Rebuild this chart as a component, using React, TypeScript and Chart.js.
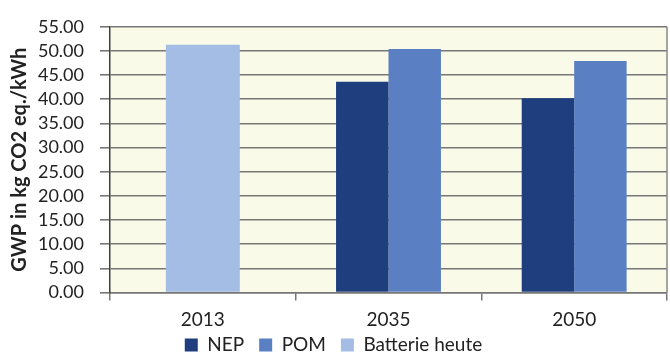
import React, { useEffect, useRef } from 'react';
import { Chart, registerables } from 'chart.js';

Chart.register(...registerables);

// Years on the category axis
const years = ['2013', '2035', '2050'];

// GWP in kg CO2 eq. per kWh
const nepValues = [null, 43.6, 40.2];
const pomValues = [null, 50.4, 47.9];
const batterieHeuteValues = [51.3, null, null];

// Value axis range
const yMin = 0;
const yMax = 55;
const yStep = 5;

const seriesLabels = ['NEP', 'POM', 'Batterie heute'];
const seriesColors = ['#1f3e7e', '#5b7fc3', '#a3bde4'];

// Cream plot area fill plus the right-hand frame line
const plotFrame = {
  id: 'plotFrame',
  afterLayout(chart: any) {
    // let the year labels run below the axis box instead of being clipped
    const x = chart.scales.x;
    if (x) x.bottom = chart.height;
  },
  beforeDraw(chart: any) {
    const { ctx, chartArea } = chart;
    if (!chartArea) return;
    ctx.save();
    ctx.fillStyle = '#fafae8';
    ctx.fillRect(chartArea.left, chartArea.top, chartArea.right - chartArea.left, chartArea.bottom - chartArea.top);
    ctx.restore();
  },
  afterDraw(chart: any) {
    const { ctx, chartArea } = chart;
    if (!chartArea) return;
    ctx.save();
    ctx.strokeStyle = '#888888';
    ctx.lineWidth = 1.5;
    ctx.beginPath();
    ctx.moveTo(chartArea.right, chartArea.top);
    ctx.lineTo(chartArea.right, chartArea.bottom);
    ctx.stroke();
    ctx.restore();
  },
};

export default function App() {
  const canvasRef = useRef<HTMLCanvasElement | null>(null);

  useEffect(() => {
    document.body.style.margin = '0';
    const canvas = canvasRef.current;
    if (!canvas) return;

    Chart.defaults.font.family = 'Lato, "Open Sans", sans-serif';
    Chart.defaults.color = '#222222';

    const chart = new Chart(canvas, {
      type: 'bar',
      data: {
        labels: years,
        datasets: [
          {
            label: seriesLabels[0],
            data: nepValues,
            backgroundColor: seriesColors[0],
            categoryPercentage: 0.565,
            barPercentage: 1,
          },
          {
            label: seriesLabels[1],
            data: pomValues,
            backgroundColor: seriesColors[1],
            categoryPercentage: 0.565,
            barPercentage: 1,
          },
          {
            label: seriesLabels[2],
            data: batterieHeuteValues,
            backgroundColor: seriesColors[2],
            categoryPercentage: 0.565,
            barPercentage: 0.705,
          },
        ],
      },
      options: {
        responsive: false,
        animation: false,
        skipNull: true,
        layout: { padding: { top: 16, right: 3, bottom: -7.5, left: 0 } },
        plugins: {
          tooltip: { enabled: false },
          legend: {
            position: 'bottom',
            labels: {
              boxWidth: 13,
              boxHeight: 13,
              padding: 15,
              color: '#222222',
              font: { size: 19 },
            },
          },
        },
        scales: {
          x: {
            grid: {
              drawOnChartArea: false,
              drawTicks: true,
              tickLength: 8,
              color: '#777777',
              lineWidth: 1.5,
            },
            border: { color: '#777777', width: 1.5 },
            ticks: { padding: 8, font: { size: 19 }, color: '#222222' },
            afterFit(scale: any) {
              scale.height = 28;
            },
          },
          y: {
            min: yMin,
            max: yMax,
            ticks: {
              stepSize: yStep,
              autoSkip: false,
              padding: 16,
              font: { size: 18 },
              color: '#222222',
              callback: (v: any) => Number(v).toFixed(2),
            },
            grid: {
              color: '#777777',
              lineWidth: 1.6,
              tickLength: 10,
            },
            border: { color: '#404040', width: 1.5 },
            title: {
              display: true,
              text: 'GWP in kg CO2 eq./kWh',
              font: { size: 20, weight: 'bold' },
              color: '#222222',
              padding: { top: 8, bottom: 0 },
            },
            afterFit(scale: any) {
              scale.width = 110;
            },
          },
        },
      } as any,
      plugins: [plotFrame],
    });

    return () => chart.destroy();
  }, []);

  return <canvas ref={canvasRef} width={670} height={357} />;
}
